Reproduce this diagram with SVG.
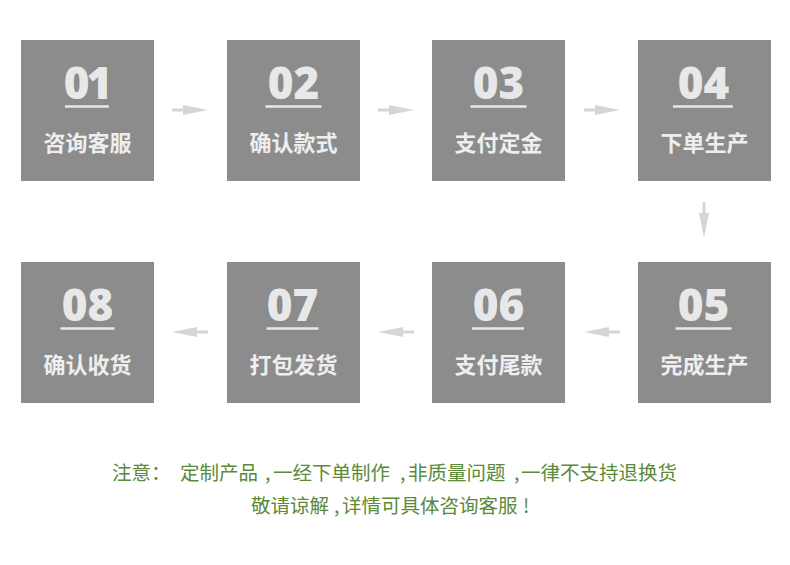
<svg xmlns="http://www.w3.org/2000/svg" width="790" height="565" viewBox="0 0 790 565">
<style>
.box{fill:#8c8c8c}
.num{font-family:"Open Sans","Liberation Sans",sans-serif;font-weight:800;font-size:44px;fill:#e8e8e8;text-anchor:middle}
.lbl{font-family:"Noto Sans CJK SC",sans-serif;font-weight:bold;font-size:22px;fill:#eeeeee;text-anchor:middle}
.ul{stroke:#e8e8e8;stroke-width:2.5}
.arr{fill:#d6d6d6}
.note{font-family:"Noto Sans CJK SC",sans-serif;font-size:19.5px;fill:#5a8a3a}
</style>
<defs>
<path id="ar" class="arr" d="M0,-1.5 L11,-1.5 L11,-5 L36,0 L11,5 L11,1.5 L0,1.5 Z"/>
</defs>
<rect width="790" height="565" fill="#ffffff"/>
<g id="node01"><rect class="box" x="21" y="40" width="133" height="141"/><text class="num" x="86.5" y="99" letter-spacing="-3">01</text><line class="ul" x1="65" y1="106.5" x2="109" y2="106.5"/><text class="lbl" x="87.5" y="151">咨询客服</text></g>
<g id="node02"><rect class="box" x="227" y="40" width="133" height="141"/><text class="num" x="293.5" y="99">02</text><line class="ul" x1="265.5" y1="106.5" x2="321.5" y2="106.5"/><text class="lbl" x="293.5" y="151">确认款式</text></g>
<g id="node03"><rect class="box" x="432" y="40" width="133" height="141"/><text class="num" x="498.5" y="99">03</text><line class="ul" x1="470.5" y1="106.5" x2="526.5" y2="106.5"/><text class="lbl" x="498.5" y="151">支付定金</text></g>
<g id="node04"><rect class="box" x="638" y="40" width="133" height="141"/><text class="num" x="703.5" y="99">04</text><line class="ul" x1="673" y1="106.5" x2="733" y2="106.5"/><text class="lbl" x="704.5" y="151">下单生产</text></g>
<g id="node05"><rect class="box" x="638" y="262" width="133" height="141"/><text class="num" x="703.5" y="321">05</text><line class="ul" x1="675.5" y1="328.5" x2="731.5" y2="328.5"/><text class="lbl" x="704.5" y="373">完成生产</text></g>
<g id="node06"><rect class="box" x="432" y="262" width="133" height="141"/><text class="num" x="498.5" y="321">06</text><line class="ul" x1="472" y1="328.5" x2="524" y2="328.5"/><text class="lbl" x="498.5" y="373">支付尾款</text></g>
<g id="node07"><rect class="box" x="227" y="262" width="133" height="141"/><text class="num" x="292.5" y="321">07</text><line class="ul" x1="266.5" y1="328.5" x2="318.5" y2="328.5"/><text class="lbl" x="293.5" y="373">打包发货</text></g>
<g id="node08"><rect class="box" x="21" y="262" width="133" height="141"/><text class="num" x="87.5" y="321">08</text><line class="ul" x1="60.5" y1="328.5" x2="114.5" y2="328.5"/><text class="lbl" x="87.5" y="373">确认收货</text></g>
<g id="connectors">
<use href="#ar" transform="translate(172,110)"/>
<use href="#ar" transform="translate(378,110)"/>
<use href="#ar" transform="translate(584,110)"/>
<use href="#ar" transform="translate(704,202) rotate(90)"/>
<use href="#ar" transform="translate(620,332) rotate(180)"/>
<use href="#ar" transform="translate(414,332) rotate(180)"/>
<use href="#ar" transform="translate(208,332) rotate(180)"/>
</g>
<g id="note">
<text class="note" y="480"><tspan x="112">注意：</tspan><tspan x="180">定制产品</tspan><tspan x="265">,</tspan><tspan x="273">一经下单制作</tspan><tspan x="400">,</tspan><tspan x="408">非质量问题</tspan><tspan x="514">,</tspan><tspan x="521">一律不支持退换货</tspan></text>
<text class="note" y="513"><tspan x="251">敬请谅解</tspan><tspan x="334">,</tspan><tspan x="342">详情可具体咨询客服</tspan><tspan x="523">!</tspan></text>
</g>
</svg>
